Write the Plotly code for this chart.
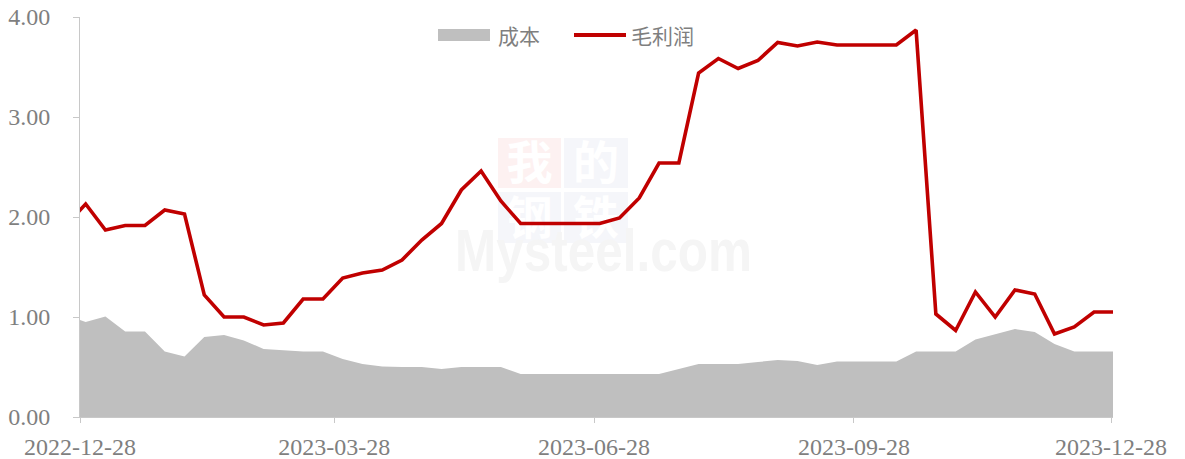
import base64
import pandas as pd
import plotly.graph_objects as go

# ---- data (weekly) ----
dates = pd.date_range("2022-12-23", "2023-12-29", freq="7D")
cost = [1.02, 0.95, 1.005, 0.855, 0.855, 0.655, 0.605, 0.80, 0.82, 0.765, 0.68, 0.665,
        0.655, 0.655, 0.58, 0.53, 0.505, 0.50, 0.50, 0.48, 0.50, 0.50, 0.50,
        0.43, 0.43, 0.43, 0.43, 0.43, 0.43, 0.43, 0.43,
        0.48, 0.53, 0.53, 0.53, 0.55, 0.57, 0.56, 0.52,
        0.555, 0.555, 0.555, 0.555,
        0.655, 0.655, 0.655, 0.775, 0.83, 0.88, 0.85, 0.73, 0.655, 0.655, 0.655]
profit = [1.92, 2.13, 1.87, 1.915, 1.915, 2.07, 2.03, 1.22, 1.00, 1.00, 0.92, 0.94,
          1.18, 1.18, 1.39, 1.44, 1.47, 1.57, 1.77, 1.935, 2.27, 2.46, 2.16,
          1.935, 1.935, 1.935, 1.935, 1.935, 1.99, 2.19, 2.54, 2.54,
          3.44, 3.585, 3.485, 3.565, 3.745, 3.71, 3.75, 3.72, 3.72, 3.72, 3.72,
          3.87, 1.03, 0.865, 1.25, 1.00, 1.27, 1.23, 0.83, 0.90, 1.05, 1.05]
series_names = ["成本", "毛利润"]
x_ticks = ["2022-12-28", "2023-03-28", "2023-06-28", "2023-09-28", "2023-12-28"]
y_ticks = [0, 1, 2, 3, 4]

GRAY = "#bfbfbf"
RED = "#c00000"
TXT = "#7f7f7f"
AXIS = "#c8c8c8"

fig = go.Figure()
fig.add_trace(go.Scatter(x=dates, y=cost, name=series_names[0], mode="lines",
                         line=dict(width=0, color=GRAY), fill="tozeroy",
                         fillcolor=GRAY, showlegend=False))
fig.add_trace(go.Scatter(x=dates, y=profit, name=series_names[1], mode="lines",
                         line=dict(width=3.6, color=RED), showlegend=False))

# the page body margin is removed (post_script), so the figure fills the window
W, H = 1185, 459
# target plot area in window pixels: x 80..1113, y 17..417
L, T = 80, 17
R = W - 1113
B = H - 417
pw, ph = W - L - R, H - T - B


def px(x):
    return (x - 80) / pw


def py(y):
    return (417 - y) / ph


# manual legend
shapes = [
    dict(type="rect", xref="paper", yref="paper", x0=px(438), x1=px(490),
         y0=py(41), y1=py(29), fillcolor=GRAY, line=dict(width=0)),
    dict(type="line", xref="paper", yref="paper", x0=px(574), x1=px(626),
         y0=py(35), y1=py(35), line=dict(color=RED, width=4)),
]
annotations = [
    dict(text=series_names[0], xref="paper", yref="paper", x=px(496), y=py(35),
         xanchor="left", yanchor="middle", showarrow=False,
         font=dict(family="Noto Sans CJK SC", size=21, color=TXT)),
    dict(text=series_names[1], xref="paper", yref="paper", x=px(629), y=py(35),
         xanchor="left", yanchor="middle", showarrow=False,
         font=dict(family="Noto Sans CJK SC", size=21, color=TXT)),
]

# faint watermark drawn below the traces
svg = """<svg xmlns="http://www.w3.org/2000/svg" width="300" height="155" viewBox="0 0 300 155">
<rect x="46" y="2" width="63" height="50" fill="#fdf1f1"/>
<rect x="112" y="2" width="64" height="50" fill="#f5f6fa"/>
<rect x="46" y="56" width="63" height="51" fill="#f5f6fa"/>
<rect x="112" y="56" width="64" height="51" fill="#f5f6fa"/>
<g font-family="Noto Sans CJK SC" font-weight="bold" font-size="46" fill="#ffffff" text-anchor="middle">
<text x="77.5" y="43">我</text><text x="144" y="43">的</text>
<text x="77.5" y="98">钢</text><text x="144" y="98">铁</text>
</g>
<text x="3" y="135" font-family="Liberation Sans, Arial, sans-serif" font-weight="bold" font-size="60"
 fill="#f5f5f5" textLength="297" lengthAdjust="spacingAndGlyphs">Mysteel.com</text>
</svg>"""
uri = "data:image/svg+xml;base64," + base64.b64encode(svg.encode("utf-8")).decode()
images = [dict(source=uri, xref="paper", yref="paper", x=px(452), y=py(136),
               sizex=300 / pw, sizey=155 / ph, xanchor="left", yanchor="top",
               sizing="stretch", layer="below")]

fig.update_layout(
    width=W, height=H,
    margin=dict(l=L, r=R, t=T, b=B, pad=0, autoexpand=False),
    paper_bgcolor="white", plot_bgcolor="white",
    showlegend=False,
    shapes=shapes, annotations=annotations, images=images,
    font=dict(family="Liberation Serif", size=24, color=TXT),
)
fig.update_xaxes(
    type="date", range=["2022-12-28", "2023-12-28 17:00"], automargin=False,
    tickvals=x_ticks, ticktext=x_ticks,
    showgrid=False, zeroline=False, showline=True, linecolor=AXIS, linewidth=1,
    ticks="outside", ticklen=5, tickcolor=AXIS, tickwidth=1,
    ticklabelstandoff=3,
    tickfont=dict(family="Liberation Serif", size=24, color=TXT),
)
fig.update_yaxes(
    range=[0, 4], tickvals=y_ticks, tickformat=".2f", automargin=False,
    showgrid=False, zeroline=False, showline=True, linecolor=AXIS, linewidth=1,
    ticks="outside", ticklen=6, tickcolor=AXIS, tickwidth=1,
    ticklabelstandoff=18,
    tickfont=dict(family="Liberation Serif", size=24, color=TXT),
)

fig.write_html(
    "out.html",
    config={"displayModeBar": False},
    post_script="document.body.style.margin='0';document.body.style.overflow='hidden';",
)
